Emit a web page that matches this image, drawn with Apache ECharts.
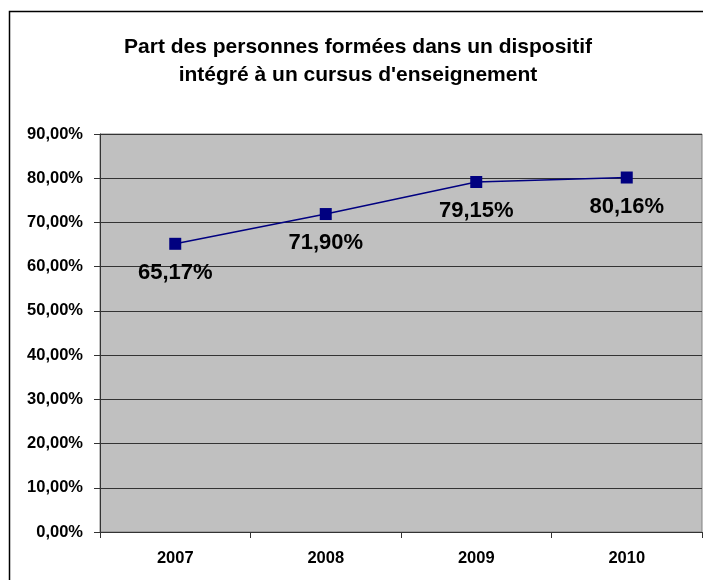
<!DOCTYPE html>
<html>
<head>
<meta charset="utf-8">
<script src="https://cdn.jsdelivr.net/npm/echarts@6/dist/echarts.min.js"></script>
<style>
  html, body { margin: 0; padding: 0; background: #fff; }
  #chart { width: 703px; height: 580px; }
</style>
</head>
<body>
<div id="chart"></div>
<script>
// --- données ---
const years = ['2007', '2008', '2009', '2010'];
const parts = [65.17, 71.90, 79.15, 80.16];
const titleLines = ['Part des personnes formées dans un dispositif', 'intégré à un cursus d\'enseignement'];

const fmt = v => v.toFixed(2).replace('.', ',') + '%';
const FONT = 'Liberation Sans, Arial, sans-serif';

const chart = echarts.init(document.getElementById('chart'), null, { renderer: 'canvas' });

chart.setOption({
  backgroundColor: '#fff',
  animation: false,
  title: {
    text: titleLines.join('\n'),
    left: 353,
    textAlign: 'center',
    top: 28,
    textStyle: { fontFamily: FONT, fontWeight: 'bold', fontSize: 21, lineHeight: 28, color: '#000' }
  },
  graphic: [{
    type: 'rect',
    shape: { x: 9.5, y: 11.5, width: 720, height: 600 },
    style: { fill: null, stroke: '#000', lineWidth: 1.5 },
    silent: true
  }],
  grid: {
    left: 100, top: 134, right: 1, bottom: 48,
    show: true,
    backgroundColor: '#c0c0c0',
    borderColor: '#808080',
    borderWidth: 1
  },
  xAxis: {
    type: 'category',
    data: years,
    boundaryGap: true,
    axisLine: { lineStyle: { color: '#333', width: 1 } },
    axisTick: { show: true, length: 6, inside: false, lineStyle: { color: '#333' } },
    axisLabel: { fontFamily: FONT, fontWeight: 'bold', fontSize: 16.5, color: '#000', margin: 18 },
    splitLine: { show: false }
  },
  yAxis: {
    type: 'value',
    min: 0, max: 90, interval: 10,
    axisLine: { show: true, lineStyle: { color: '#333', width: 1 } },
    axisTick: { show: true, length: 6, lineStyle: { color: '#333' } },
    axisLabel: { fontFamily: FONT, fontWeight: 'bold', fontSize: 16.5, color: '#000', margin: 17, formatter: fmt },
    splitLine: { show: true, lineStyle: { color: '#333', width: 1 } }
  },
  series: [{
    type: 'line',
    data: parts,
    symbol: 'rect',
    symbolSize: 12,
    itemStyle: { color: '#000080' },
    lineStyle: { color: '#000080', width: 1.5 },
    label: {
      show: true,
      position: 'bottom',
      distance: 12,
      formatter: p => fmt(p.value),
      fontFamily: FONT, fontWeight: 'bold', fontSize: 22, color: '#000'
    }
  }]
});
</script>
</body>
</html>
